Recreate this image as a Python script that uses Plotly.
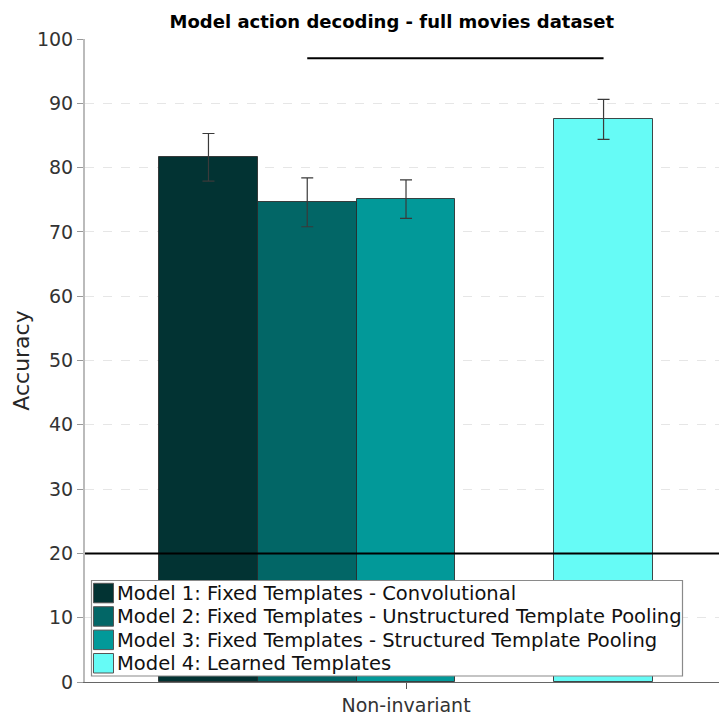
import plotly.graph_objects as go

# ---- data ----
category = "Non-invariant"
models = [
    "Model 1: Fixed Templates - Convolutional",
    "Model 2: Fixed Templates - Unstructured Template Pooling",
    "Model 3: Fixed Templates - Structured Template Pooling",
    "Model 4: Learned Templates",
]
accuracy = [81.6, 74.6, 75.1, 87.5]
sem = [3.7, 3.8, 3.0, 3.1]
chance_level = 20
significance_level = 97.0
significance_pair = (1, 3)  # model 2 vs model 4
y_ticks = [0, 10, 20, 30, 40, 50, 60, 70, 80, 90, 100]

# ---- styling / layout ----
colors = ["#023333", "#026666", "#029999", "#66fbf6"]
slot_of_model = [0, 1, 2, 4]   # five slots in the group, one left empty
n_slots = 5
slot_width = 0.16
group_x = 1.0

W, H = 719, 715
M_L, M_R, M_T, M_B = 85, 0, 39, 33
PLOT_W = W - M_L - M_R
PLOT_H = H - M_T - M_B


def slot_center(i):
    return group_x + (slot_of_model[i] - (n_slots - 1) / 2) * slot_width


def px_x(p):
    """pixel column -> paper x"""
    return (p - M_L) / PLOT_W


def px_y(p):
    """pixel row -> paper y"""
    return (H - M_B - p) / PLOT_H


fig = go.Figure()
for i, name in enumerate(models):
    fig.add_trace(go.Bar(
        x=[slot_center(i)], y=[accuracy[i]], width=slot_width, name=name,
        marker=dict(color=colors[i], line=dict(color="rgba(40,40,40,0.85)", width=1)),
        error_y=dict(type="data", array=[sem[i]], visible=True,
                     color="#3a3a3a", thickness=1.2, width=6),
        showlegend=False,
    ))

# chance level line
fig.add_shape(type="line", xref="paper", x0=0, x1=1, yref="y",
              y0=chance_level, y1=chance_level,
              line=dict(color="black", width=2), layer="above")
# significance bar between two models
a, b = significance_pair
fig.add_shape(type="line", xref="x", yref="y",
              x0=slot_center(a), x1=slot_center(b),
              y0=significance_level, y1=significance_level,
              line=dict(color="black", width=2), layer="above")

# legend box with large swatches
box_l, box_t, box_r, box_b = 91.5, 580.5, 682.5, 676
fig.add_shape(type="rect", xref="paper", yref="paper",
              x0=px_x(box_l), x1=px_x(box_r), y0=px_y(box_b), y1=px_y(box_t),
              fillcolor="white", line=dict(color="#8a8a8a", width=1.2), layer="above")
row_pitch = 23.4
for i, name in enumerate(models):
    top = 583.3 + i * row_pitch
    fig.add_shape(type="rect", xref="paper", yref="paper",
                  x0=px_x(93.5), x1=px_x(113.5), y0=px_y(top + 19.5), y1=px_y(top),
                  fillcolor=colors[i], line=dict(color="#555555", width=1), layer="above")
    fig.add_annotation(x=px_x(115), y=px_y(top + 10), xref="paper", yref="paper",
                       text=name, showarrow=False, xanchor="left", yanchor="middle",
                       font=dict(size=19.5, color="#111111"))

fig.update_layout(
    width=W, height=H,
    margin=dict(l=M_L, r=M_R, t=M_T, b=M_B),
    paper_bgcolor="white", plot_bgcolor="white",
    font=dict(family="DejaVu Sans", color="#262626"),
    title=dict(text="<b>Model action decoding - full movies dataset</b>",
               x=0.484, xref="paper", xanchor="center",
               y=0.969, yref="container", yanchor="middle",
               font=dict(size=18, color="black")),
    showlegend=False,
    bargap=0,
)
fig.update_xaxes(
    range=[0.480, 1.507], tickvals=[group_x], ticktext=[category],
    ticks="outside", ticklen=6, tickcolor="#555555",
    showline=True, linecolor="#666666", linewidth=1,
    showgrid=False, zeroline=False,
    tickfont=dict(size=19, color="#333333"),
)
fig.update_yaxes(
    range=[0, 100], tickvals=y_ticks,
    ticks="outside", ticklen=6, tickcolor="#999999",
    showline=True, linecolor="#bbbbbb", linewidth=2,
    showgrid=True, gridcolor="#e6e6e6", griddash="dash", gridwidth=1,
    zeroline=False,
    tickfont=dict(size=19, color="#333333"),
    title=dict(text="Accuracy", font=dict(size=22, color="#262626"), standoff=1),
)

fig.write_html("out.html")
